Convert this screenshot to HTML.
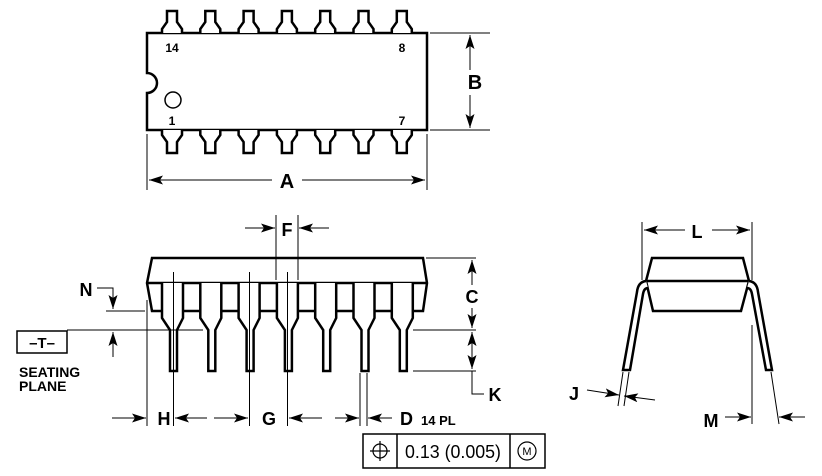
<!DOCTYPE html>
<html><head><style>
html,body{margin:0;padding:0;background:#fff;}
svg{display:block;}
text{font-family:"Liberation Sans",sans-serif;font-weight:bold;fill:#000;}
</style></head><body>
<svg width="822" height="476" viewBox="0 0 822 476" xmlns="http://www.w3.org/2000/svg">
<defs>
<marker id="ar" viewBox="0 0 14 9" refX="14" refY="4.5" markerWidth="14" markerHeight="9" markerUnits="userSpaceOnUse" orient="auto">
<path d="M0,0 L14,4.5 L0,9 L3,4.5 Z" fill="#000"/></marker>
</defs>
<g fill="none" stroke="#000">
<!-- TOP VIEW -->
<path d="M147,33 H427 V130 H147 V93 A10,10 0 0 0 147,73 Z" stroke-width="2.5" fill="#fff"/>
<circle cx="173" cy="100" r="8" stroke-width="1.5"/>
<g stroke-width="2.5" fill="#fff">
<g id="tp"><path d="M162,33 L162,29 L167,22 L167,11 L177,11 L177,22 L182,29 L182,33"/>
<path d="M162,130 L162,135 L167,142 L167,153 L177,153 L177,142 L182,135 L182,130"/></g>
<use href="#tp" x="38.3"/><use href="#tp" x="76.6"/><use href="#tp" x="114.9"/>
<use href="#tp" x="153.2"/><use href="#tp" x="191.5"/><use href="#tp" x="229.8"/>
</g>
<g stroke-width="1">
<line x1="430" y1="33" x2="490" y2="33"/><line x1="430" y1="130" x2="490" y2="130"/>
<line x1="470" y1="70" x2="470" y2="35" marker-end="url(#ar)"/>
<line x1="470" y1="95" x2="470" y2="128" marker-end="url(#ar)"/>
<line x1="147" y1="134" x2="147" y2="190"/><line x1="427" y1="134" x2="427" y2="190"/>
<line x1="272" y1="180" x2="149" y2="180" marker-end="url(#ar)"/>
<line x1="302" y1="180" x2="425" y2="180" marker-end="url(#ar)"/>
</g>

<!-- SIDE VIEW -->
<path d="M152,258 H423 L427,283 L423,311 H152 L147,283 Z" stroke-width="2.5" fill="#fff"/>
<line x1="147" y1="283" x2="427" y2="283" stroke-width="2.5"/>
<g stroke-width="2.5" fill="#fff">
<g id="sl"><path d="M162,283 V318 L170,330 V371 H177 V330 L183,318 V283"/></g>
<use href="#sl" x="38.3"/><use href="#sl" x="76.6"/><use href="#sl" x="114.9"/>
<use href="#sl" x="153.2"/><use href="#sl" x="191.5"/><use href="#sl" x="229.8"/>
</g>
<g stroke-width="1">
<line x1="173.5" y1="272" x2="173.5" y2="426"/>
<line x1="249.5" y1="272" x2="249.5" y2="426"/>
<line x1="287.5" y1="272" x2="287.5" y2="426"/>
<line x1="276" y1="215" x2="276" y2="280"/><line x1="298" y1="215" x2="298" y2="280"/>
<line x1="245" y1="228" x2="275" y2="228" marker-end="url(#ar)"/>
<line x1="329" y1="228" x2="299" y2="228" marker-end="url(#ar)"/>
<line x1="147" y1="300" x2="147" y2="426"/>
<line x1="360" y1="373" x2="360" y2="426"/><line x1="367" y1="373" x2="367" y2="426"/>
<line x1="112" y1="418" x2="146" y2="418" marker-end="url(#ar)"/>
<line x1="207" y1="418" x2="175" y2="418" marker-end="url(#ar)"/>
<line x1="214" y1="418" x2="248" y2="418" marker-end="url(#ar)"/>
<line x1="322" y1="418" x2="289" y2="418" marker-end="url(#ar)"/>
<line x1="335" y1="418" x2="359" y2="418" marker-end="url(#ar)"/>
<line x1="392" y1="418" x2="368" y2="418" marker-end="url(#ar)"/>
<line x1="426" y1="258" x2="476" y2="258"/>
<line x1="413" y1="330" x2="476" y2="330"/>
<line x1="413" y1="371" x2="476" y2="371"/>
<line x1="472" y1="285" x2="472" y2="260" marker-end="url(#ar)"/>
<line x1="472" y1="308" x2="472" y2="328" marker-end="url(#ar)"/>
<line x1="472" y1="352" x2="472" y2="332" marker-end="url(#ar)"/>
<line x1="472" y1="350" x2="472" y2="369" marker-end="url(#ar)"/>
<polyline points="472,371 472,394 484,394"/>
<line x1="106" y1="311" x2="145" y2="311"/>
<polyline points="97,288 113,288 113,309" marker-end="url(#ar)"/>
<line x1="67" y1="330" x2="203" y2="330"/>
<line x1="113" y1="357" x2="113" y2="332" marker-end="url(#ar)"/>
<rect x="17" y="331" width="50" height="22" stroke-width="1.5"/>
</g>
<rect x="363" y="434" width="182" height="34" stroke-width="1.5"/>
<line x1="397" y1="434" x2="397" y2="468" stroke-width="1.5"/>
<line x1="510" y1="434" x2="510" y2="468" stroke-width="1.5"/>
<circle cx="380" cy="451" r="7" stroke-width="1.2"/>
<line x1="370" y1="451" x2="390" y2="451" stroke-width="1.2"/>
<line x1="380" y1="441" x2="380" y2="461" stroke-width="1.2"/>
<circle cx="527" cy="451" r="9" stroke-width="1.2"/>

<!-- END VIEW -->
<path d="M652,258 H743 L749,281 L741,311 H653 L646,281 Z" stroke-width="2.5" fill="#fff"/>
<line x1="646" y1="281" x2="749" y2="281" stroke-width="2.5"/>
<path d="M646,281 Q638,282 637,292 L623,370 H630 L643,294 Q644,288 648,288" stroke-width="2.5" fill="#fff"/>
<path d="M749,281 Q757,282 758,292 L772,370 H766 L752,294 Q751,288 747,288" stroke-width="2.5" fill="#fff"/>
<g stroke-width="1">
<line x1="642" y1="222" x2="642" y2="280"/><line x1="752" y1="222" x2="752" y2="280"/>
<line x1="685" y1="230" x2="644" y2="230" marker-end="url(#ar)"/>
<line x1="712" y1="230" x2="750" y2="230" marker-end="url(#ar)"/>
<line x1="623" y1="372" x2="618" y2="406"/><line x1="629" y1="372" x2="624" y2="406"/>
<line x1="587" y1="390" x2="619" y2="395" marker-end="url(#ar)"/>
<line x1="655" y1="400" x2="624" y2="396" marker-end="url(#ar)"/>
<line x1="752" y1="325" x2="752" y2="424"/>
<line x1="771" y1="372" x2="779" y2="424"/>
<line x1="725" y1="417" x2="751" y2="417" marker-end="url(#ar)"/>
<line x1="805" y1="417" x2="779" y2="417" marker-end="url(#ar)"/>
</g>
</g>

<text x="172" y="52" font-size="12" text-anchor="middle">14</text>
<text x="402" y="52" font-size="12" text-anchor="middle">8</text>
<text x="172" y="125" font-size="12" text-anchor="middle">1</text>
<text x="402" y="125" font-size="12" text-anchor="middle">7</text>
<text x="475" y="89" font-size="20" text-anchor="middle">B</text>
<text x="287" y="188" font-size="20" text-anchor="middle">A</text>
<text x="287" y="236" font-size="18" text-anchor="middle">F</text>
<text x="472" y="303" font-size="18" text-anchor="middle">C</text>
<text x="495" y="401" font-size="18" text-anchor="middle">K</text>
<text x="86" y="296" font-size="18" text-anchor="middle">N</text>
<text x="42" y="348" font-size="15" text-anchor="middle">–T–</text>
<text x="19" y="377" font-size="14">SEATING</text>
<text x="19" y="391" font-size="14">PLANE</text>
<text x="164" y="425" font-size="18" text-anchor="middle">H</text>
<text x="269" y="425" font-size="18" text-anchor="middle">G</text>
<text x="400" y="425" font-size="18">D</text>
<text x="421" y="425" font-size="13">14 PL</text>
<text x="453" y="458" font-size="18" text-anchor="middle" textLength="96" lengthAdjust="spacingAndGlyphs" style="font-weight:normal">0.13 (0.005)</text>
<text x="527" y="455" font-size="11" text-anchor="middle" style="font-weight:normal">M</text>
<text x="697" y="238" font-size="18" text-anchor="middle">L</text>
<text x="574" y="400" font-size="18" text-anchor="middle">J</text>
<text x="711" y="427" font-size="18" text-anchor="middle">M</text>
</svg>
</body></html>
